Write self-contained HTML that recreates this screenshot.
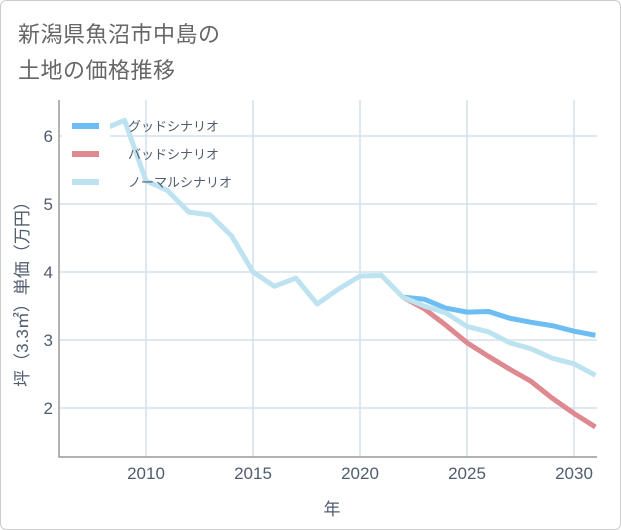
<!DOCTYPE html>
<html><head><meta charset="utf-8"><style>
body{margin:0;background:#fff;}
#wrap{position:relative;width:619px;height:528px;border:1px solid #ccc;border-radius:6px;overflow:hidden;font-family:"Liberation Sans","Noto Sans CJK JP",sans-serif;}
.title{position:absolute;left:17px;font-size:22px;color:#666;letter-spacing:0.5px;}
</style></head><body>
<div id="wrap">
<div class="title" style="top:16px">新潟県魚沼市中島の</div>
<div class="title" style="top:52px">土地の価格推移</div>
<svg id="svg" width="621" height="530" style="position:absolute;left:-1px;top:-1px"></svg>
</div>
<script>
const years=[2008,2009,2010,2011,2012,2013,2014,2015,2016,2017,2018,2019,2020,2021,2022,2023,2024,2025,2026,2027,2028,2029,2030,2031];
const normal=[6.1,6.23,5.34,5.2,4.88,4.84,4.53,4.0,3.79,3.91,3.53,3.75,3.94,3.95,3.63,3.5,3.4,3.2,3.12,2.96,2.87,2.73,2.65,2.48];
const goodYears=[2022,2023,2024,2025,2026,2027,2028,2029,2030,2031];
const good=[3.63,3.6,3.47,3.41,3.42,3.32,3.26,3.21,3.13,3.07];
const bad=[3.63,3.46,3.22,2.96,2.76,2.57,2.39,2.14,1.92,1.72];
const xTicks=[2010,2015,2020,2025,2030];
const yTicks=[2,3,4,5,6];
const L=59,R=597,T=100,B=457;
const X=v=>146+(v-2010)*21.4;
const Y=v=>136+(6-v)*68;
const svg=document.getElementById('svg');
const NS='http://www.w3.org/2000/svg';
const TC='#4f5d6e';
function mk(t,a){const e=document.createElementNS(NS,t);for(const k in a)e.setAttribute(k,a[k]);svg.appendChild(e);return e;}
xTicks.forEach(t=>{const l=mk('line',{x1:X(t),x2:X(t),y1:T,y2:B,stroke:'#d5e0ea','stroke-width':1.5});

const tx=mk('text',{x:X(t),y:479,'text-anchor':'middle','font-size':17,fill:TC});tx.textContent=t;
});
yTicks.forEach(t=>{const l=mk('line',{x1:L,x2:R,y1:Y(t),y2:Y(t),stroke:'#d5e0ea','stroke-width':1.5});

const tx=mk('text',{x:53,y:Y(t)+6,'text-anchor':'end','font-size':17,fill:TC});tx.textContent=t;
});
const ax=mk('path',{d:`M${L},${T}V${B}H${R}`,fill:'none',stroke:'#999','stroke-width':1.5});

function line(xs,vs,c,n){const p=mk('polyline',{points:xs.map((x,i)=>X(x)+','+Y(vs[i])).join(' '),fill:'none',stroke:c,'stroke-width':5,'stroke-linejoin':'round'});
}
line(goodYears,good,'#6bbdf3','good-scenario-line');
line(goodYears,bad,'#de8890','bad-scenario-line');
line(years,normal,'#bde2f0','normal-scenario-line');
const lg=[['グッドシナリオ','#6bbdf3'],['バッドシナリオ','#de8890'],['ノーマルシナリオ','#bde2f0']];
const bg=mk('rect',{x:62,y:112,width:48,height:82,fill:'#fff'});

lg.forEach((d,i)=>{const y=126+i*28;
const l=mk('line',{x1:72,x2:99,y1:y,y2:y,stroke:d[1],'stroke-width':6});

const t=mk('text',{x:128,y:y+5,'font-size':13,fill:TC});t.textContent=d[0];
});
const yt=mk('text',{x:0,y:0,'font-size':17,fill:TC,'text-anchor':'middle',transform:'translate(28,290) rotate(-90)'});
yt.textContent='坪（3.3㎡）単価（万円）';

const xt=mk('text',{x:332,y:515,'font-size':17,fill:TC,'text-anchor':'middle'});xt.textContent='年';

</script>
</body></html>
